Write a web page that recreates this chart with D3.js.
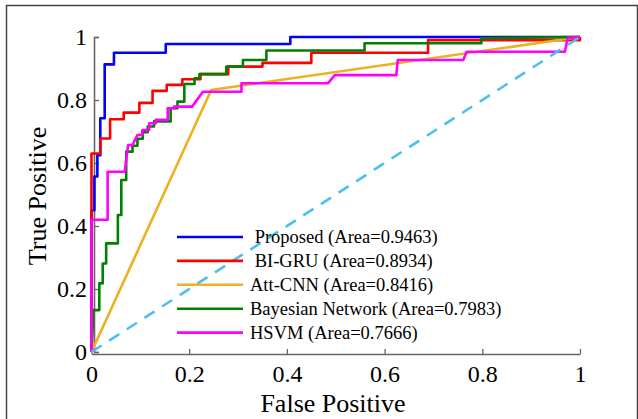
<!DOCTYPE html>
<html>
<head>
<meta charset="utf-8">
<script src="https://cdn.jsdelivr.net/npm/d3@7/dist/d3.min.js"></script>
<style>
  body { margin: 0; background: #fff; }
  figure { margin: 0; }
  svg { display: block; font-family: "Liberation Serif", "Times New Roman", serif; }
</style>
</head>
<body>
<figure id="graph"></figure>
<script>
// ROC curves [false positive, true positive]
const proposed = [[0,0],[0,0.45],[0.006,0.45],[0.006,0.557],[0.012,0.557],[0.012,0.625],[0.018,0.625],[0.018,0.742],
  [0.027,0.742],[0.027,0.913],[0.046,0.913],[0.046,0.95],[0.152,0.95],[0.152,0.978],[0.407,0.978],[0.407,1],[1,1]]

const biGru = [[0,0],[0,0.63],[0.018,0.63],[0.018,0.678],[0.038,0.678],[0.038,0.739],[0.066,0.739],[0.066,0.76],
  [0.098,0.76],[0.098,0.791],[0.125,0.791],[0.125,0.829],[0.154,0.829],[0.154,0.848],[0.186,0.848],[0.186,0.866],
  [0.223,0.866],[0.223,0.882],[0.28,0.882],[0.28,0.906],[0.35,0.906],[0.35,0.918],[0.45,0.918],[0.45,0.95],
  [0.689,0.95],[0.689,0.99],[1,0.99],[1,1]]

const attCnn = [[0,0],[0.245,0.832],[1,1]]

const bayesNet = [[0,0],[0.004,0.133],[0.016,0.133],[0.016,0.218],[0.023,0.218],[0.023,0.281],[0.03,0.281],
  [0.03,0.345],[0.054,0.345],[0.054,0.435],[0.061,0.435],[0.061,0.546],[0.071,0.546],[0.071,0.636],[0.084,0.636],
  [0.084,0.655],[0.094,0.655],[0.094,0.677],[0.105,0.677],[0.105,0.698],[0.115,0.698],[0.115,0.716],[0.128,0.716],
  [0.128,0.732],[0.162,0.732],[0.162,0.774],[0.176,0.774],[0.176,0.795],[0.19,0.795],[0.19,0.851],[0.211,0.851],
  [0.211,0.869],[0.221,0.869],[0.221,0.882],[0.276,0.882],[0.276,0.906],[0.31,0.906],[0.31,0.927],[0.358,0.927],
  [0.358,0.957],[0.559,0.957],[0.559,0.98],[0.798,0.98],[0.798,0.996],[1,1]]

const hsvm = [[0,0],[0,0.42],[0.033,0.42],[0.033,0.572],[0.068,0.572],[0.075,0.657],[0.084,0.657],[0.094,0.689],
  [0.104,0.689],[0.104,0.705],[0.118,0.705],[0.118,0.726],[0.132,0.726],[0.132,0.737],[0.156,0.737],[0.156,0.774],
  [0.169,0.774],[0.169,0.779],[0.206,0.779],[0.228,0.826],[0.307,0.826],[0.307,0.853],[0.484,0.853],[0.498,0.879],
  [0.624,0.879],[0.627,0.927],[0.761,0.927],[0.768,0.953],[0.969,0.953],[0.975,0.997],[1,1]]

const chance = [[0,0],[1,1]]

const seriesLabels = [' Proposed (Area=0.9463)', ' BI-GRU (Area=0.8934)', 'Att-CNN (Area=0.8416)',
  'Bayesian Network (Area=0.7983)', 'HSVM (Area=0.7666)']
const seriesColors = ['#0000ff', '#ff0000', '#edb120', '#008000', '#ff00ff']

const xTicks = [0, 0.2, 0.4, 0.6, 0.8, 1]
const xTickLabels = ['0', '0.2', '0.4', '0.6', '0.8', '1']
const yTicks = [0, 0.2, 0.4, 0.6, 0.8, 1]
const yTickLabels = ['0', '0.2', '0.4', '0.6', '0.8', '1']

const width = 638
const height = 419
const axisColor = '#666'

const svg = d3.select('figure#graph')
  .append('svg')
  .attr('width', width)
  .attr('height', height)

// outer frame of the figure (runs off the bottom of the picture)
svg.append('rect')
  .attr('x', 6.5)
  .attr('y', 5.5)
  .attr('width', 631)
  .attr('height', 430)
  .attr('fill', 'none')
  .attr('stroke', '#444')
  .attr('stroke-width', 1.5)

const xScale = d3.scaleLinear().domain([0, 1]).range([91.5, 580])
const yScale = d3.scaleLinear().domain([0, 1]).range([352, 37])

// axes
const xAxis = svg.append('g')
  .attr('transform', 'translate(0, 354)')
  .call(d3.axisBottom(xScale)
    .tickValues(xTicks)
    .tickFormat((d, i) => xTickLabels[i])
    .tickSizeInner(-5)
    .tickSizeOuter(0)
    .tickPadding(11))

const yAxis = svg.append('g')
  .attr('transform', 'translate(94, 0)')
  .call(d3.axisLeft(yScale)
    .tickValues(yTicks)
    .tickFormat((d, i) => yTickLabels[i])
    .tickSizeInner(-5)
    .tickSizeOuter(-5)
    .tickPadding(7))

;[xAxis, yAxis].forEach(ax => {
  ax.select('.domain').attr('stroke', axisColor).attr('stroke-width', 1.6)
  ax.selectAll('.tick line').attr('stroke', axisColor).attr('stroke-width', 1.3)
  ax.selectAll('.tick text')
    .attr('fill', '#000')
    .style('font-family', '"Liberation Serif", serif')
    .style('font-size', '24px')
})

svg.append('text')
  .attr('x', 333)
  .attr('y', 412)
  .attr('text-anchor', 'middle')
  .style('font-size', '26px')
  .text('False Positive')

svg.append('text')
  .attr('transform', 'translate(46, 196) rotate(-90)')
  .attr('text-anchor', 'middle')
  .style('font-size', '26px')
  .text('True Positive')

// curves
const line = d3.line()
  .x(d => xScale(d[0]))
  .y(d => yScale(d[1]))

const allSeries = [proposed, biGru, attCnn, bayesNet, hsvm]

allSeries.forEach((s, i) => {
  svg.append('path')
    .datum(s)
    .attr('fill', 'none')
    .attr('stroke', seriesColors[i])
    .attr('stroke-width', 2.6)
    .attr('stroke-linejoin', 'round')
    .attr('d', line)
})

svg.append('path')
  .datum(chance)
  .attr('fill', 'none')
  .attr('stroke', '#4dbeee')
  .attr('stroke-width', 2.6)
  .attr('stroke-dasharray', '12,9')
  .attr('d', line)

// legend
const legend = svg.append('g')
  .attr('transform', 'translate(177, 237)')

seriesLabels.forEach((label, i) => {
  const row = legend.append('g').attr('transform', `translate(0, ${i * 23.9})`)
  row.append('line')
    .attr('x1', 0)
    .attr('x2', 66)
    .attr('stroke', seriesColors[i])
    .attr('stroke-width', 2.6)
  row.append('text')
    .attr('x', 73)
    .attr('y', 6)
    .style('font-size', '18.5px')
    .style('white-space', 'pre')
    .text(label)
})
</script>
</body>
</html>
